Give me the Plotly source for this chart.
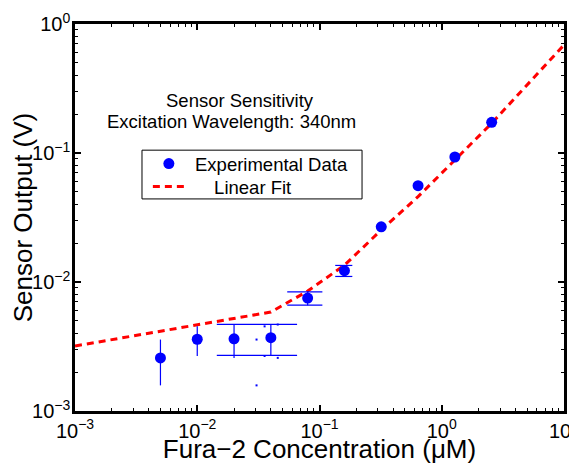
import plotly.graph_objects as go

# ---- data ----
conc = [0.005, 0.01, 0.02, 0.04, 0.08, 0.16, 0.32, 0.64, 1.28, 2.56]
output = [0.00258, 0.0036, 0.00363, 0.0037, 0.0075, 0.01224, 0.0268, 0.0558, 0.0931, 0.173]
err = [0.0010, 0.00093, 0.00105, 0.0010, 0.00089, 0.0012, 0.0, 0.0, 0.0, 0.0]

fit_x = [0.001, 0.04, 0.08, 0.16, 0.32, 0.64, 1.28, 2.56, 10]
fit_y = [0.00319, 0.00585, 0.0085, 0.0135, 0.0253, 0.0459, 0.0882, 0.170, 0.688]

x_tick_vals = [1e-3, 1e-2, 1e-1, 1e0, 1e1]
x_tick_labels = ["10<sup>\u22123</sup>", "10<sup>\u22122</sup>", "10<sup>\u22121</sup>",
                 "10<sup>0</sup>", "10<sup>1</sup>"]
y_tick_vals = [1e-3, 1e-2, 1e-1, 1e0]
y_tick_labels = ["10<sup>\u22123</sup>", "10<sup>\u22122</sup>", "10<sup>\u22121</sup>",
                 "10<sup>0</sup>"]

title_lines = ["Sensor Sensitivity", "Excitation Wavelength: 340nm"]
x_title = "Fura\u22122 Concentration (\u03bcM)"
y_title = "Sensor Output (V)"
legend_names = ["\u00a0Experimental Data", "\u00a0\u00a0\u00a0\u00a0\u2009Linear Fit"]

FONT = "Liberation Sans, Arial, Helvetica, sans-serif"
BLUE = "#0000ff"

# error-bar caps in the MATLAB style (cap half-width = data x range / 100)
tee = (max(conc) - min(conc)) / 100.0
cap_x, cap_y, dot_x, dot_y = [], [], [], []
for xv, yv, ev in zip(conc, output, err):
    for yy in (yv + ev, yv - ev):
        if xv - tee > 0:
            cap_x += [xv - tee, xv + tee, None]
            cap_y += [yy, yy, None]
        else:
            dot_x.append(xv + tee)
            dot_y.append(yy)

minor_vals = [k * 10.0 ** d for d in range(-3, 1) for k in range(2, 10)]

fig = go.Figure()

fig.add_trace(go.Scatter(
    x=fit_x, y=fit_y, mode="lines", name=legend_names[1],
    line=dict(color="#ff0000", width=3, dash="7px,5px"),
    legend="legend2",
))
fig.add_trace(go.Scatter(
    x=cap_x, y=cap_y, mode="lines", showlegend=False, hoverinfo="skip",
    line=dict(color=BLUE, width=1.2),
))
fig.add_trace(go.Scatter(
    x=dot_x, y=dot_y, mode="markers", showlegend=False, hoverinfo="skip",
    marker=dict(color=BLUE, size=2, symbol="square"),
))
fig.add_trace(go.Scatter(
    x=conc, y=output, mode="markers", name=legend_names[0],
    marker=dict(color=BLUE, size=11),
    error_y=dict(type="data", array=err, symmetric=True, color=BLUE,
                 thickness=1.2, width=0),
    legend="legend",
))

axis_common = dict(
    type="log", showgrid=False, zeroline=False, automargin=False,
    showline=True, linecolor="black", linewidth=2.5, mirror="allticks",
    ticks="inside", ticklen=6, tickwidth=1.5, tickcolor="black",
    tickfont=dict(family=FONT, size=20, color="black"),
    tickmode="array", ticklabeloverflow="allow",
    minor=dict(ticks="inside", ticklen=3.5, tickwidth=1, tickcolor="black",
               tickmode="array", tickvals=minor_vals + [k * 1.0 for k in range(2, 10)],
               showgrid=False),
)

fig.update_xaxes(**axis_common, range=[-3, 1], tickvals=x_tick_vals, ticktext=x_tick_labels,
                 title=dict(text=x_title, font=dict(family=FONT, size=26, color="black"),
                            standoff=7))
fig.update_yaxes(**axis_common, range=[-3, 0], tickvals=y_tick_vals, ticktext=y_tick_labels,
                 ticklabelstandoff=-2,
                 title=dict(text=y_title, font=dict(family=FONT, size=26, color="black"),
                            standoff=0))

fig.add_annotation(text=title_lines[0], xref="paper", yref="paper", x=0.338, y=0.802,
                   showarrow=False, xanchor="center", yanchor="middle",
                   font=dict(family=FONT, size=18.5, color="black"))
fig.add_annotation(text=title_lines[1], xref="paper", yref="paper", x=0.321, y=0.747,
                   showarrow=False, xanchor="center", yanchor="middle",
                   font=dict(family=FONT, size=18.5, color="black"))

# legend frame
fig.add_shape(type="rect", xref="paper", yref="paper", x0=0.137, x1=0.587, y0=0.548, y1=0.674,
              line=dict(color="black", width=1), fillcolor="white", layer="below")

leg_common = dict(xanchor="left", yanchor="middle", bgcolor="rgba(0,0,0,0)", borderwidth=0,
                  font=dict(family=FONT, size=18.5, color="black"), itemwidth=32)

# the page body adds an 8px offset, so the figure is sized to end at the window edge
fig.update_layout(
    width=569, height=456,
    margin=dict(l=67, r=13, t=16, b=53),
    paper_bgcolor="white", plot_bgcolor="white",
    font=dict(family=FONT, color="black"),
    showlegend=True,
    legend=dict(x=0.149, y=0.638, **leg_common),
    legend2=dict(x=0.149, y=0.579, **leg_common),
)

fig.write_html("out.html")
